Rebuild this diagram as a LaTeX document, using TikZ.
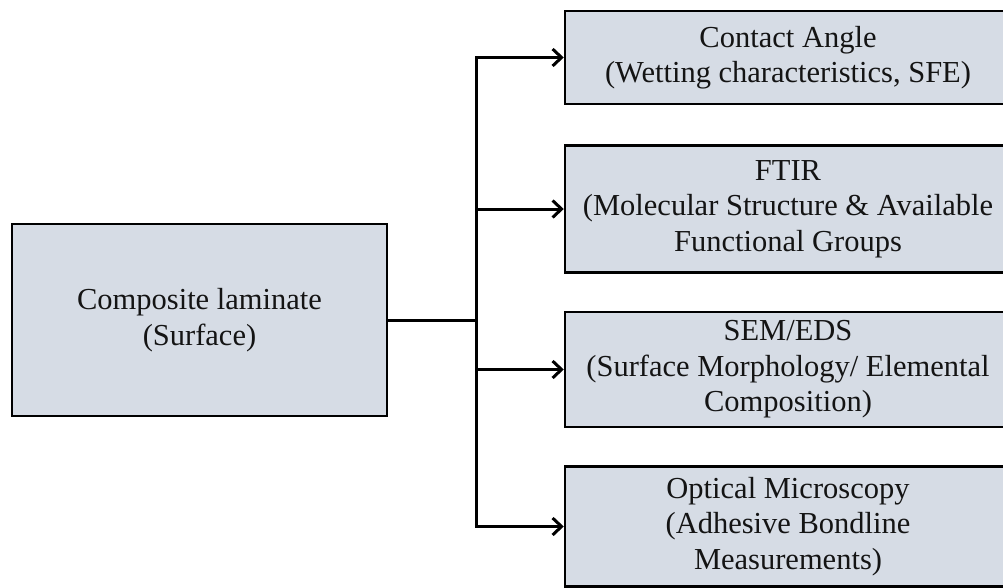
\documentclass[tikz,border=0pt]{standalone}
\usepackage{fontspec}
\setmainfont{Liberation Serif}
\usetikzlibrary{arrows.meta}
\definecolor{boxfill}{RGB}{214,220,229}
\begin{document}
\begin{tikzpicture}[x=1pt,y=-1pt,
  box/.style={draw=black, line width=2.5pt, fill=boxfill, inner sep=0pt,
    align=center, font=\fontsize{30.5}{35.5}\selectfont, text=black!92},
  rbox/.style={box, minimum width=446pt},
  conn/.style={line width=3pt, line join=miter},
  arr/.style={conn, -{Straight Barb[length=9pt,width=17pt,line width=3pt]}}]
\useasboundingbox (0,0) rectangle (1003,587);
\clip (0,0) rectangle (1003,587);
\node[box, minimum width=375pt, minimum height=192pt] (L) at (199.5,320)
  {Composite laminate\\(Surface)};
\node[rbox, minimum height=93pt] (b1) at (788,57.5)
  {Contact Angle\\(Wetting characteristics, SFE)};
\node[rbox, minimum height=127pt] (b2) at (788,209)
  {FTIR\\(Molecular Structure \& Available\\Functional Groups};
\node[rbox, minimum height=115pt] (b3) at (788,369.5)
  {SEM/EDS\\(Surface Morphology/ Elemental\\Composition)};
\node[rbox, minimum height=120pt] (b4) at (788,526.5)
  {Optical Microscopy\\(Adhesive Bondline\\Measurements)};
\coordinate (j) at (476,320);
\draw[conn] (L.east) -- (j);
\draw[arr] (j) |- (b1.west);
\draw[arr] (j) |- (b2.west);
\draw[arr] (j) |- (b3.west);
\draw[arr] (j) |- (b4.west);
\end{tikzpicture}
\end{document}
